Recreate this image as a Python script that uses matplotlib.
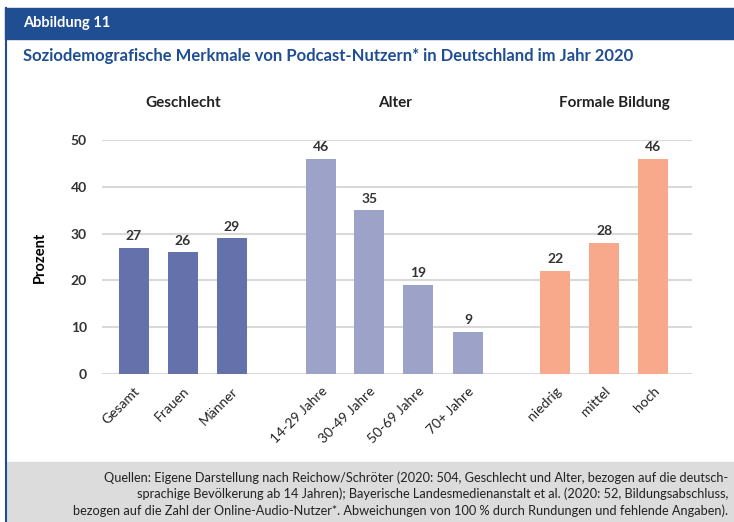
import matplotlib
matplotlib.use('Agg')
from matplotlib import pyplot as plt
from matplotlib.patches import Rectangle
from matplotlib.lines import Line2D

plt.rcParams['font.family'] = ['Lato', 'DejaVu Sans']

## Data
groups = ['Geschlecht', 'Alter', 'Formale Bildung']
labels_sex = ['Gesamt', 'Frauen', 'Männer']
values_sex = [27, 26, 29]
labels_age = ['14-29 Jahre', '30-49 Jahre', '50-69 Jahre', '70+ Jahre']
values_age = [46, 35, 19, 9]
labels_edu = ['niedrig', 'mittel', 'hoch']
values_edu = [22, 28, 46]

colors = ['#6471AA', '#9DA2C8', '#F8A98B']
blue = '#1F4E93'

title = 'Soziodemografische Merkmale von Podcast-Nutzern* in Deutschland im Jahr 2020'
source = ('Quellen: Eigene Darstellung nach Reichow/Schröter (2020: 504, Geschlecht und Alter, bezogen auf die deutsch-\n'
          'sprachige Bevölkerung ab 14 Jahren); Bayerische Landesmedienanstalt et al. (2020: 52, Bildungsabschluss,\n'
          'bezogen auf die Zahl der Online-Audio-Nutzer*. Abweichungen von 100 % durch Rundungen und fehlende Angaben).')

W, H = 734, 522
fig = plt.figure(figsize=(W / 100, H / 100), dpi=100)

## Frame: header bar, left border, footer box
fig.patches.append(Rectangle((5 / W, 1 - 39 / H), 1, 31 / H, transform=fig.transFigure,
                             color=blue, zorder=0))
fig.patches.append(Rectangle((7 / W, 0), 1, 60 / H, transform=fig.transFigure,
                             color='#DCDCDC', zorder=0))
fig.lines.append(Line2D([6 / W, 6 / W], [0, 1 - 8 / H], transform=fig.transFigure,
                        color=blue, lw=1.5))
fig.text(23 / W, 1 - 23 / H, 'Abbildung 11', color='white', fontsize=10.5,
         fontweight='bold', va='center', ha='left')
fig.text(23 / W, 1 - 56 / H, title, color=blue, fontsize=12,
         fontweight='bold', va='center', ha='left')
fig.text(728 / W, 1 - 494 / H, source, color='#222222', fontsize=9.2,
         ha='right', va='center', multialignment='right', linespacing=1.35)

## Chart
ax = fig.add_axes([102 / W, 1 - 374 / H, (692 - 102) / W, (374 - 140) / H])
pos_sex = [0, 1, 2]
pos_age = [3.82, 4.8, 5.8, 6.82]
pos_edu = [8.6, 9.6, 10.6]
bw = 0.62
for pos, vals, col in [(pos_sex, values_sex, colors[0]),
                       (pos_age, values_age, colors[1]),
                       (pos_edu, values_edu, colors[2])]:
    ax.bar(pos, vals, width=bw, color=col, zorder=3)
    for p, v in zip(pos, vals):
        ax.text(p, v + 1.2, str(v), ha='center', va='bottom', fontsize=10,
                fontweight='bold', color='#333333')

ax.set_xlim(-0.65, 11.39)
ax.set_ylim(0, 50)
ax.set_yticks([0, 10, 20, 30, 40, 50])
ax.grid(axis='y', color='#D9D9D9', lw=1.5, zorder=0)
for s in ax.spines.values():
    s.set_visible(False)
ax.tick_params(axis='both', length=0)
ax.tick_params(axis='y', pad=11, labelsize=10, labelcolor='#333333')
for t in ax.get_yticklabels():
    t.set_fontweight('bold')
ax.set_xticks(pos_sex + pos_age + pos_edu)
ax.set_xticklabels(labels_sex + labels_age + labels_edu, rotation=45,
                   ha='right', rotation_mode='anchor', fontsize=10, color='#222222')
ax.tick_params(axis='x', pad=8)
ax.set_ylabel('Prozent', fontsize=10.5, fontweight='bold', labelpad=17)

## Group headings
heads_x = [1, (pos_age[0] + pos_age[-1]) / 2, 9.8]
for gx, g in zip(heads_x, groups):
    ax.text(gx, 1 + 37 / 234, g, transform=ax.get_xaxis_transform(),
            ha='center', va='center', fontsize=11, fontweight='bold', color='#222222')

fig.savefig('out.png', dpi=100)
